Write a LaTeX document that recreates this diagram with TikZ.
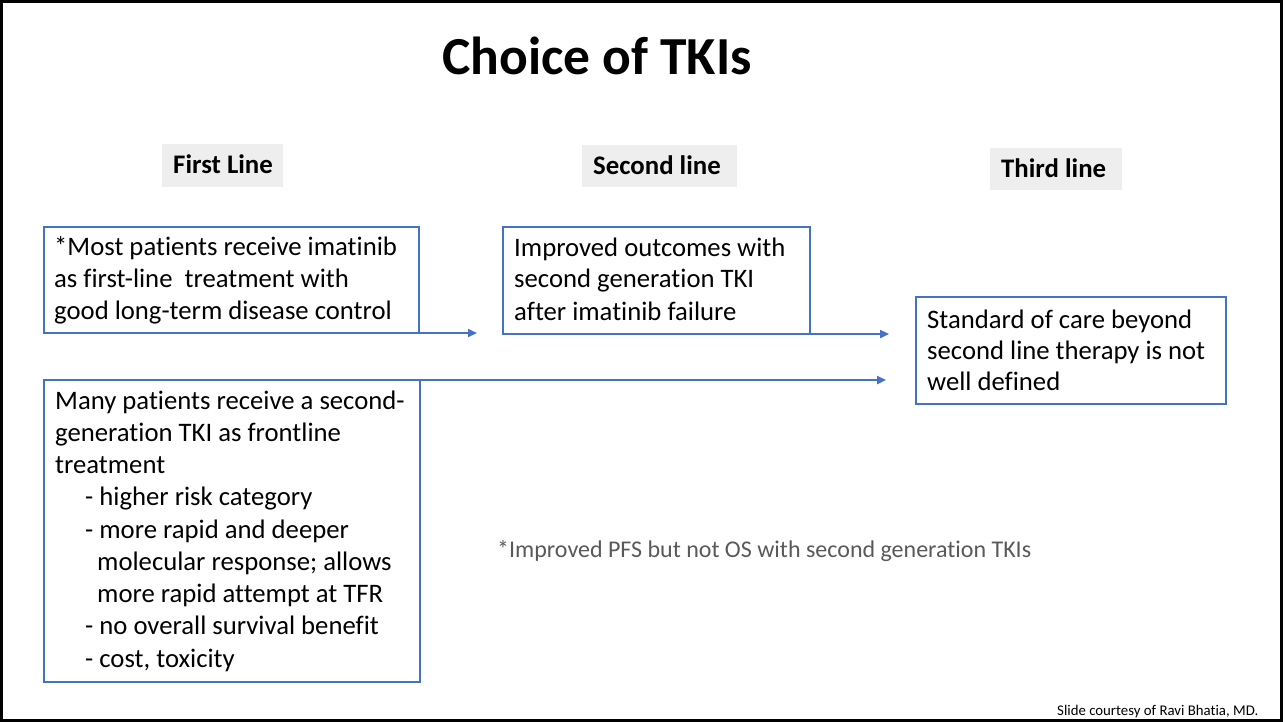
\documentclass[tikz,border=0pt]{standalone}
\usepackage{fontspec}
\setmainfont{Carlito}[Ligatures={NoCommon,NoContextual}]
\usetikzlibrary{arrows.meta}
\definecolor{boxblue}{HTML}{4472C4}
\definecolor{headgray}{HTML}{EEEEEE}
\definecolor{notegray}{HTML}{595959}
\tikzset{
  frame/.style={draw=boxblue, line width=2.5pt, outer sep=0pt, anchor=north west, inner sep=0pt},
  bodytext/.style={anchor=base west, inner sep=0pt, font=\fontsize{26.7}{32}\selectfont},
  headbox/.style={fill=headgray, anchor=north west, inner sep=0pt, outer sep=0pt},
  headtext/.style={anchor=base west, inner sep=0pt, font=\bfseries\fontsize{26.8}{32}\selectfont},
  flow/.style={draw=boxblue, line width=2.5pt, -{Triangle[length=9pt,width=8pt]}},
}
\newcommand{\lines}[1]{\begin{tabular}[t]{@{}l@{}}#1\end{tabular}}
\begin{document}
\begin{tikzpicture}[x=1pt, y=-1pt]
\useasboundingbox (0,0) rectangle (1285,722);
% slide frame
\draw[line width=3pt] (1.5,1.5) rectangle (1281,720);

% title
\node[anchor=base, font=\bfseries\fontsize{53.5}{60}\selectfont] (title) at (597,75) {Choice of TKIs};

% column headings
\node[headbox, minimum width=121pt, minimum height=43pt] (h1) at (162,144) {};
\node[headbox, minimum width=155pt, minimum height=42pt] (h2) at (582,145) {};
\node[headbox, minimum width=132pt, minimum height=42pt] (h3) at (990,148) {};
\node[headtext] (h1t) at (173,174) {First Line};
\node[headtext] (h2t) at (593,175) {Second line};
\node[headtext] (h3t) at (1001,178) {Third line};

% boxes
\node[frame, minimum width=375pt, minimum height=106pt] (b1) at (44,227) {};
\node[frame, minimum width=307pt, minimum height=107pt] (b2) at (503,227) {};
\node[frame, minimum width=310pt, minimum height=107pt] (b3) at (916,297) {};
\node[frame, minimum width=376pt, minimum height=302pt] (b4) at (44,380) {};

% box texts
\node[bodytext] (t1) at (54,255)
  {\lines{*Most patients receive imatinib\\as first-line\ \ treatment with\\good long-term disease control}};
\node[bodytext] (t2) at (514,256)
  {\lines{Improved outcomes with\\second generation TKI\\after imatinib failure}};
\node[bodytext, font=\fontsize{26.7}{31}\selectfont] (t3) at (927,328)
  {\lines{Standard of care beyond\\second line therapy is not\\well defined}};
\node[bodytext, font=\fontsize{26.7}{32.25}\selectfont] (t4) at (55,409)
  {\lines{Many patients receive a second-\\generation TKI as frontline\\treatment\\
   \hspace*{30pt}- higher risk category\\
   \hspace*{30pt}- more rapid and deeper\\
   \hspace*{42pt}molecular response; allows\\
   \hspace*{42pt}more rapid attempt at TFR\\
   \hspace*{30pt}- no overall survival benefit\\
   \hspace*{30pt}- cost, toxicity}};

% arrow end points
\coordinate (e1) at (477,333);
\coordinate (e2) at (889,334);
\coordinate (e3) at (886,380);
\draw[flow] (b1.south east) -- (e1);
\draw[flow] (b2.south east) -- (e2);
\draw[flow] (b4.north east) -- (e3);

% footnote and credit
\node[anchor=base west, inner sep=0pt, text=notegray, font=\fontsize{24}{28}\selectfont] (note) at (497,557)
  {*Improved PFS but not OS with second generation TKIs};
\node[anchor=base west, inner sep=0pt, font=\fontsize{14.8}{17}\selectfont] (credit) at (1057,715)
  {Slide courtesy of Ravi Bhatia, MD.};
\end{tikzpicture}
\end{document}
